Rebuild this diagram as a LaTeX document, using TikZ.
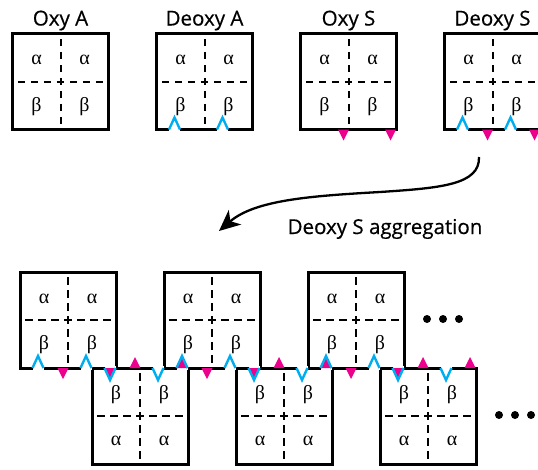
\documentclass[tikz,border=0pt]{standalone}
\usepackage{fontspec}
\setmainfont{Open Sans}
\newfontfamily\labelfont{Open Sans}[FakeBold=0.5]
\newfontfamily\greekfont{Liberation Serif}
\usetikzlibrary{arrows.meta}
\definecolor{notchcyan}{RGB}{0,174,239}
\definecolor{knobmagenta}{RGB}{236,0,140}

\begin{document}
\begin{tikzpicture}[x=1pt, y=-1pt,
    frame/.style={line width=3pt},
    sub/.style={line width=2pt, dash pattern=on 7.5pt off 5.5pt, dash phase=7.75pt},
    chain/.style={font=\greekfont\fontsize{20}{20}\selectfont, inner sep=0pt},
    title/.style={font=\labelfont\fontsize{20.5}{22}\selectfont, anchor=base, inner sep=0pt},
    gapline/.style={white, line width=3.8pt},
    notch/.style={notchcyan, line width=2.4pt},
    knob/.style={fill=knobmagenta},
    arrow/.style={-{Stealth[length=21pt, width=19pt, inset=6pt]}, line width=2.3pt},
    pics/tetramer/.style 2 args={code={
        \draw[sub] (0,48) -- (96,48);
        \draw[sub] (48,0) -- (48,96);
        \draw[frame] (0,0) rectangle (96,96);
        \node[chain] (-tl) at (24,26.5) {#1};
        \node[chain] (-tr) at (72,26.5) {#1};
        \node[chain] (-bl) at (24,73) {#2};
        \node[chain] (-br) at (72,73) {#2};
    }},
    pics/gaps/.style={code={
        \draw[gapline] (12.5,0) -- (23.5,0) (60.5,0) -- (71.5,0);
    }},
    pics/notches/.style={code={
        \draw[notch] (12.5,0) -- (18,-12) -- (23.5,0);
        \draw[notch] (60.5,0) -- (66,-12) -- (71.5,0);
    }},
    pics/knobs/.style={code={
        \fill[knob] (37.5,0) -- (48.5,0) -- (43,11) -- cycle;
        \fill[knob] (84.5,0) -- (95.5,0) -- (90,11) -- cycle;
    }}
]
\useasboundingbox (0,0) rectangle (538,469);
\clip (0,0) rectangle (538,469);

% Top row
\node[title] (oxyA-label) at (60.5,25.5) {Oxy A};
\node[title] (deoxyA-label) at (204.5,25.5) {Deoxy A};
\node[title] (oxyS-label) at (348.5,25.5) {Oxy S};
\node[title] (deoxyS-label) at (492.5,25.5) {Deoxy S};
\pic (oxyA) at (12.5,33.5) {tetramer={α}{β}};
\pic (deoxyA) at (156.5,33.5) {tetramer={α}{β}};
\pic (oxyS) at (300.5,33.5) {tetramer={α}{β}};
\pic (deoxyS) at (444.5,33.5) {tetramer={α}{β}};

% Aggregate
\pic (up1) at (20,272) {tetramer={α}{β}};
\pic (up2) at (164,272) {tetramer={α}{β}};
\pic (up3) at (308,272) {tetramer={α}{β}};
\pic (low1) at (92,368) {tetramer={β}{α}};
\pic (low2) at (236,368) {tetramer={β}{α}};
\pic (low3) at (380,368) {tetramer={β}{α}};

% Contact sites
\foreach \x/\y/\s in {156.5/129.5/1, 444.5/129.5/1, 20/368/1, 164/368/1, 308/368/1, 92/368/-1, 236/368/-1, 380/368/-1}
    \pic[yscale=\s] at (\x,\y) {gaps};
\foreach \x/\y/\s in {300.5/129.5/1, 444.5/129.5/1, 20/368/1, 164/368/1, 308/368/1, 92/368/-1, 236/368/-1, 380/368/-1}
    \pic[yscale=\s] at (\x,\y) {knobs};
\foreach \x/\y/\s in {156.5/129.5/1, 444.5/129.5/1, 20/368/1, 164/368/1, 308/368/1, 92/368/-1, 236/368/-1, 380/368/-1}
    \pic[yscale=\s] at (\x,\y) {notches};

% Continuation dots
\foreach \x in {427,443,459} \fill (\x,319) circle (4pt);
\foreach \x in {499,515,531} \fill (\x,415) circle (4pt);

% Arrow
\coordinate (deoxyS-tail) at (479,157);
\coordinate (agg-head) at (219,231);
\draw[arrow] (deoxyS-tail) .. controls (480,185) and (440,188) .. (380,192)
    .. controls (310,196) and (255,200) .. (agg-head);
\node[title] (agg-label) at (385,234) {Deoxy S aggregation};

\end{tikzpicture}
\end{document}
